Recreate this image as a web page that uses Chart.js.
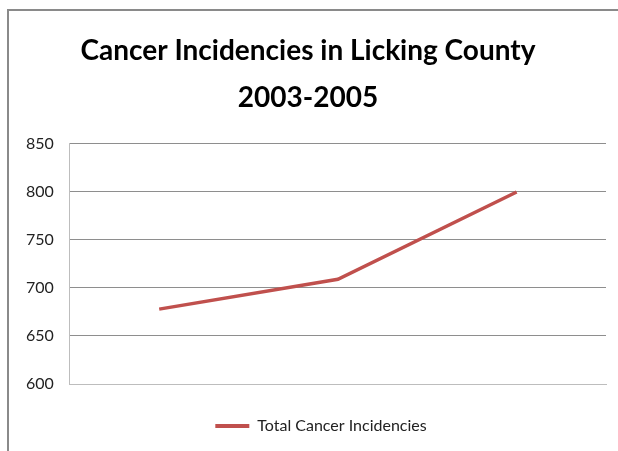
<!DOCTYPE html>
<html>
<head>
<meta charset="utf-8">
<script src="https://cdn.jsdelivr.net/npm/chart.js@4"></script>
<style>
  html, body { margin: 0; padding: 0; background: #fff; }
  #wrap { position: relative; width: 618px; height: 451px; overflow: hidden; }
  #frame { position: absolute; left: 7px; top: 9px; width: 640px; height: 470px;
           border-top: 2px solid #8a8a8a; border-left: 2px solid #8a8a8a; }
  canvas { position: absolute; left: 0; top: 0; }
</style>
</head>
<body>
<div id="wrap">
  <div id="frame"></div>
  <canvas id="c" width="618" height="451"></canvas>
</div>
<script>
const years = ["2003", "2004", "2005"];
const totalIncidencies = [678, 709, 800];
const yTicks = [600, 650, 700, 750, 800, 850];
const titleLines = ["Cancer Incidencies in Licking County", "2003-2005"];
const seriesName = "Total Cancer Incidencies";

const FONT = 'Lato, "Open Sans", sans-serif';

// nudge the legend a little to the right of the canvas centre
const legendShift = {
  id: "legendShift",
  afterLayout(chart) {
    const lg = chart.legend;
    if (lg) { lg.left += 13; lg.right += 13; }
  }
};

new Chart(document.getElementById("c"), {
  type: "line",
  data: {
    labels: years,
    datasets: [{
      label: seriesName,
      data: totalIncidencies,
      borderColor: "#c0504d",
      backgroundColor: "#c0504d",
      borderWidth: 3.5,
      pointRadius: 0,
      tension: 0
    }]
  },
  options: {
    responsive: false,
    animation: false,
    devicePixelRatio: 1,
    layout: { padding: { left: 10, right: 12, top: 28, bottom: 7 } },
    plugins: {
      title: {
        display: true,
        text: titleLines,
        color: "#000",
        font: { family: FONT, size: 28, weight: "bold", lineHeight: 1.66 },
        padding: { top: 0, bottom: 23 }
      },
      legend: {
        position: "bottom",
        labels: {
          color: "#222",
          font: { family: FONT, size: 16 },
          boxWidth: 34,
          boxHeight: 4,
          padding: 26,
          generateLabels: (chart) =>
            Chart.defaults.plugins.legend.labels.generateLabels(chart)
              .map(item => Object.assign(item, { lineWidth: 0 }))
        }
      },
      tooltip: { enabled: false }
    },
    scales: {
      x: {
        offset: true,
        grid: { display: false },
        ticks: { display: false },
        border: { display: true, color: "#bdbdbd", width: 1 }
      },
      y: {
        min: 600,
        max: 850,
        afterBuildTicks: (axis) => { axis.ticks = yTicks.map(v => ({ value: v })); },
        grid: { color: "#8e8e8e", drawTicks: false, lineWidth: 1 },
        border: { display: true, color: "#bdbdbd", width: 1 },
        ticks: {
          color: "#222",
          font: { family: FONT, size: 16 },
          padding: 16
        }
      }
    }
  },
  plugins: [legendShift]
});
</script>
</body>
</html>
